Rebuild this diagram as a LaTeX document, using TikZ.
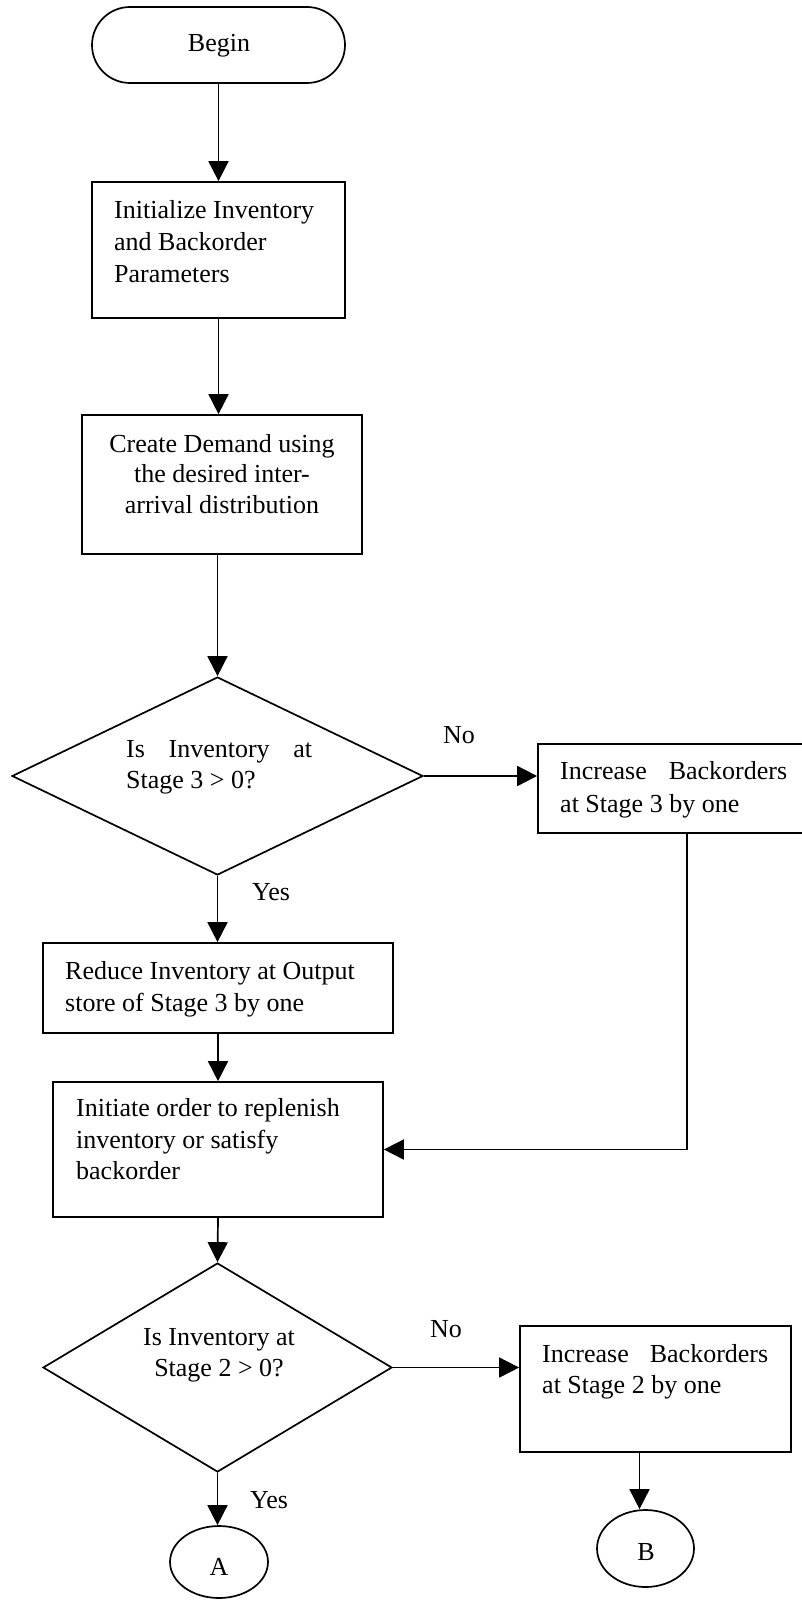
\documentclass[tikz,border=0pt]{standalone}
\usepackage{fontspec}
\setmainfont{Liberation Serif}
\usetikzlibrary{shapes.geometric,shapes.misc,arrows.meta}
\begin{document}
\begin{tikzpicture}[x=1pt,y=-1pt,
  every node/.style={font=\fontsize{26}{31}\selectfont},
  procbox/.style={draw, line width=1.7pt, rectangle, inner sep=0pt},
  termbox/.style={draw, line width=1.7pt, rounded rectangle, inner sep=0pt},
  decbox/.style={draw, line width=1.7pt, diamond, inner sep=0pt},
  connbox/.style={draw, line width=1.7pt, ellipse, inner sep=0pt},
  txt/.style={inner sep=0pt, anchor=base west},
  ctr/.style={inner sep=0pt, anchor=base},
  arr/.style={line width=1.7pt, -{Triangle[length=20pt,width=20pt]}}
]
\fill[white] (0,0) rectangle (802,1600);
\useasboundingbox (0,0) rectangle (802,1600);

% shapes
\node[termbox, minimum width=253pt, minimum height=76pt] (begin) at (218.5,45) {};
\node[procbox, minimum width=253pt, minimum height=136pt] (init) at (218.5,250) {};
\node[procbox, minimum width=280pt, minimum height=139pt] (create) at (222,484.5) {};
\node[decbox, minimum width=411pt, minimum height=198pt] (d1) at (217.5,776) {};
\node[procbox, minimum width=274pt, minimum height=89pt] (b3) at (675,788.5) {};
\node[procbox, minimum width=350pt, minimum height=90pt] (reduce) at (218,988) {};
\node[procbox, minimum width=330pt, minimum height=135pt] (initiate) at (218,1149.5) {};
\node[decbox, minimum width=349pt, minimum height=209pt] (d2) at (217.5,1367.5) {};
\node[procbox, minimum width=271pt, minimum height=126pt] (b2) at (655.5,1389) {};
\node[connbox, minimum width=98pt, minimum height=72pt] (ca) at (219,1562) {};
\node[connbox, minimum width=97pt, minimum height=77pt] (cb) at (645.5,1548.5) {};

% texts
\node[ctr] (tbegin) at (219,52) {Begin};
\node[txt] (ti1) at (114,218) {Initialize Inventory};
\node[txt] (ti2) at (114,250) {and Backorder};
\node[txt] (ti3) at (114,282) {Parameters};
\node[ctr] (tc1) at (222,452) {Create Demand using};
\node[ctr] (tc2) at (222,482) {the desired inter-};
\node[ctr] (tc3) at (222,513) {arrival distribution};
\node[txt] (td11) at (126,757) {\makebox[186pt][s]{Is Inventory at}};
\node[txt] (td12) at (126,788) {Stage 3 > 0?};
\node[txt] (tno1) at (443,743) {No};
\node[txt] (tb31) at (560,779) {\makebox[227pt][s]{Increase Backorders}};
\node[txt] (tb32) at (560,812) {at Stage 3 by one};
\node[txt] (tyes1) at (252,900) {Yes};
\node[txt] (tr1) at (65,979) {Reduce Inventory at Output};
\node[txt] (tr2) at (65,1011) {store of Stage 3 by one};
\node[txt] (tn1) at (76,1116) {Initiate order to replenish};
\node[txt] (tn2) at (76,1148) {inventory or satisfy};
\node[txt] (tn3) at (76,1179) {backorder};
\node[ctr] (td21) at (219,1345) {Is Inventory at};
\node[ctr] (td22) at (219,1376) {Stage 2 > 0?};
\node[txt] (tno2) at (430,1337) {No};
\node[txt] (tb21) at (542,1362) {\makebox[226pt][s]{Increase Backorders}};
\node[txt] (tb22) at (542,1393) {at Stage 2 by one};
\node[txt] (tyes2) at (250,1508) {Yes};
\node[ctr] (ta) at (219,1575) {A};
\node[ctr] (tb) at (646,1560) {B};

% connectors
\draw[arr] (begin.south) -- (init.north);
\draw[arr] (init.south) -- (init.south |- create.north);
\draw[arr] (d1.north |- create.south) -- (d1.north);
\draw[arr] (d1.east) -- (d1.east -| b3.west);
\draw[arr] ([xshift=12pt]b3.south) |- (initiate.east);
\draw[arr] (d1.south) -- (d1.south |- reduce.north);
\draw[arr] (reduce.south) -- (initiate.north);
\draw[arr] (initiate.south) -- (d2.north);
\draw[arr] (d2.east) -- (d2.east -| b2.west);
\draw[arr] (d2.south) -- (d2.south |- ca.north);
\draw[arr] ([xshift=-6pt]cb.north |- b2.south) -- ([xshift=-6pt]cb.north);
\end{tikzpicture}
\end{document}
